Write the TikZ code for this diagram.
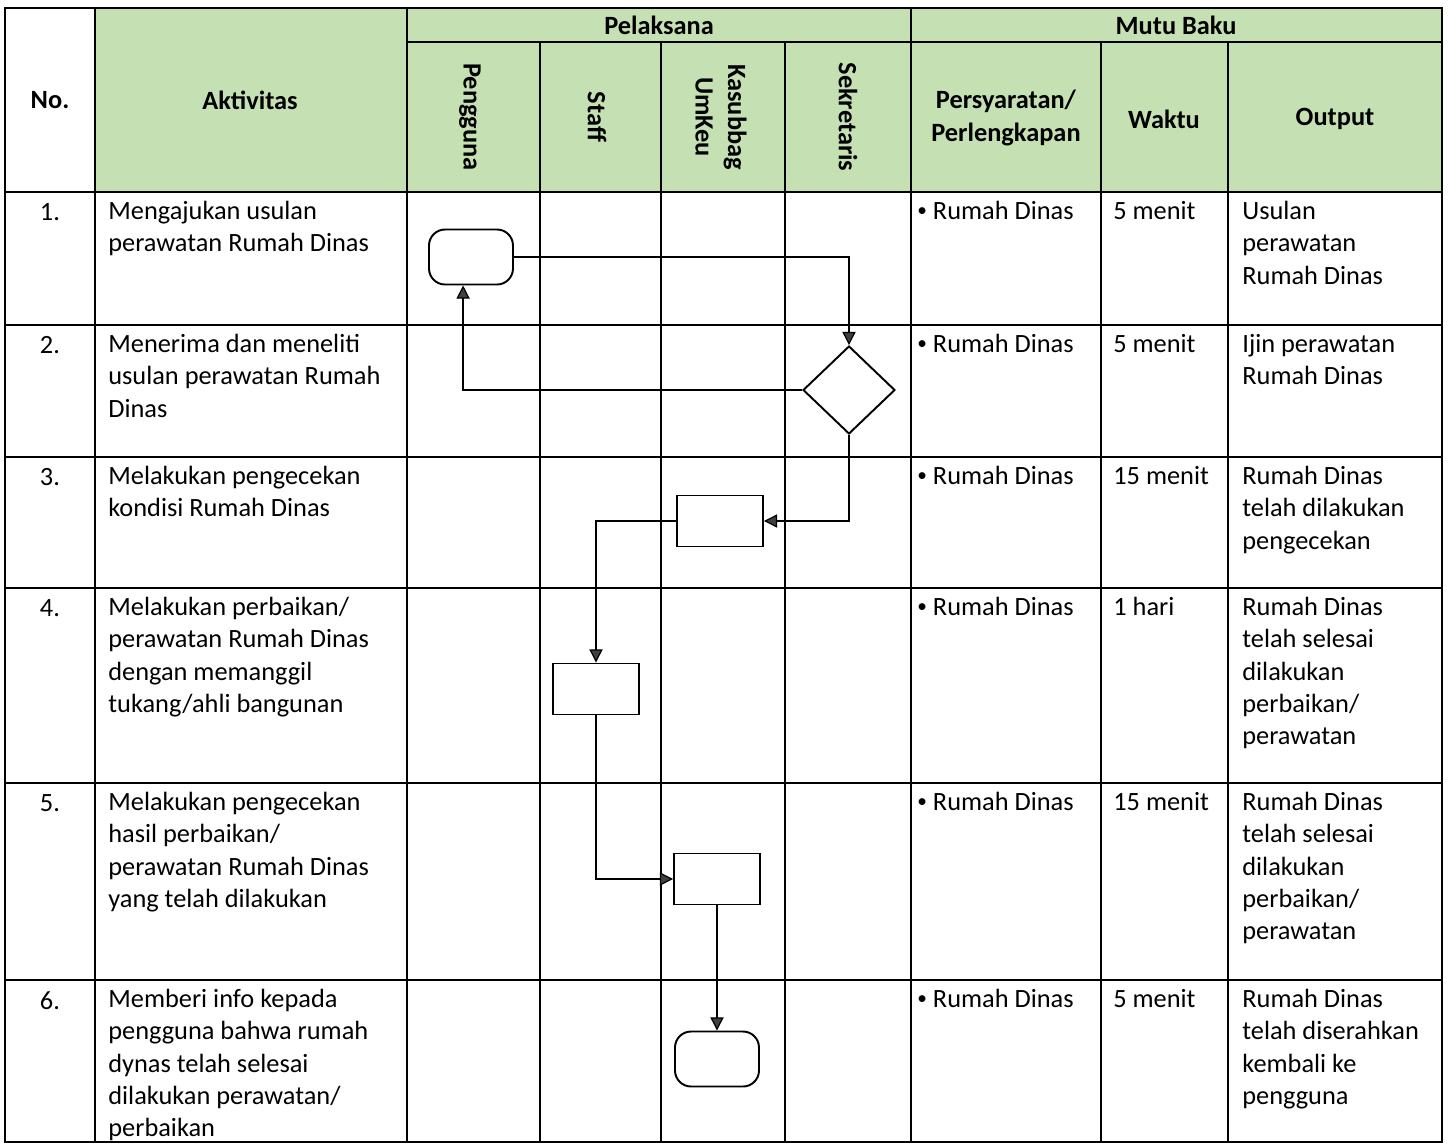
\documentclass[tikz,border=0pt]{standalone}
\usepackage{fontspec}
\setmainfont{Carlito}
\usetikzlibrary{shapes.geometric,arrows.meta}
\definecolor{headgreen}{HTML}{C5E0B3}
\newcommand{\smallbullet}{\raisebox{0.12em}{\fontsize{11}{11}\selectfont•}}
\tikzset{
	cell/.style={font=\fontsize{15}{18.4}\selectfont, align=left, inner sep=0pt, anchor=north west},
	head/.style={font=\fontsize{15}{18.4}\selectfont\bfseries, align=center, inner sep=0pt},
	term/.style={draw, line width=1.1pt, rounded corners=0.32cm, minimum width=1.68cm, minimum height=1.1cm, inner sep=0pt},
	proc/.style={draw, line width=1.1pt, minimum width=1.72cm, minimum height=1.02cm, inner sep=0pt},
	decide/.style={draw, diamond, line width=1.1pt, minimum width=1.84cm, minimum height=1.76cm, inner sep=0pt},
	flow/.style={line width=0.7pt, -{Triangle[length=7.5pt,width=7.5pt,fill=darkgray]}},
}

\begin{document}
\begin{tikzpicture}[x=0.02cm,y=-0.02cm]
	\useasboundingbox (0,0) rectangle (1448,1144);
	% header background
	\fill[headgreen] (95,8) rectangle (1442,192);
	% table lines
	\draw[line width=0.8pt] (5,8) rectangle (1442,1142);
	\foreach \y in {192,325,457,588,783,980} \draw[line width=0.8pt] (5,\y) -- (1442,\y);
	\draw[line width=0.8pt] (407,42) -- (1442,42);
	\foreach \x in {95,407,911} \draw[line width=0.8pt] (\x,8) -- (\x,1142);
	\foreach \x in {540,661,785,1101,1228} \draw[line width=0.8pt] (\x,42) -- (\x,1142);
	
	% header texts
	\node[head] (hno) at (50,100) {No.};
	\node[head] (hakt) at (250,100) {Aktivitas};
	\node[head] (hpel) at (659,25) {Pelaksana};
	\node[head] (hmutu) at (1176,25) {Mutu Baku};
	\node[head, rotate=-90] (hpengguna) at (470,117) {Pengguna};
	\node[head, rotate=-90] (hstaff) at (597,117) {Staff};
	\node[head, rotate=-90] (hkasubbag) at (721,117) {Kasubbag\\UmKeu};
	\node[head, rotate=-90] (hsekretaris) at (848,117) {Sekretaris};
	\node[head] (hsyarat) at (1006,118) {Persyaratan/\\Perlengkapan};
	\node[head] (hwaktu) at (1164,119) {Waktu};
	\node[head] (houtput) at (1335,119) {Output};
	
	% rows
	\foreach \y/\no/\akt/\wkt/\out [count=\i] in {
		192/1./{Mengajukan usulan\\perawatan Rumah Dinas}/5 menit/{Usulan\\perawatan\\Rumah Dinas},
		325/2./{Menerima dan meneliti\\usulan perawatan Rumah\\Dinas}/5 menit/{Ijin perawatan\\Rumah Dinas},
		457/3./{Melakukan pengecekan\\kondisi Rumah Dinas}/15 menit/{Rumah Dinas\\telah dilakukan\\pengecekan},
		588/4./{Melakukan perbaikan/\\perawatan Rumah Dinas\\dengan memanggil\\tukang/ahli bangunan}/1 hari/{Rumah Dinas\\telah selesai\\dilakukan\\perbaikan/\\perawatan},
		783/5./{Melakukan pengecekan\\hasil perbaikan/\\perawatan Rumah Dinas\\yang telah dilakukan}/15 menit/{Rumah Dinas\\telah selesai\\dilakukan\\perbaikan/\\perawatan},
		980/6./{Memberi info kepada\\pengguna bahwa rumah\\dynas telah selesai\\dilakukan perawatan/\\perbaikan}/5 menit/{Rumah Dinas\\telah diserahkan\\kembali ke\\pengguna}}
	{
		\node[cell, anchor=north] (no\i) at (50,\y+11) {\no};
		\node[cell] (akt\i) at (108,\y+9) {\akt};
		\node[cell] (syarat\i) at (917,\y+9) {\smallbullet\ Rumah Dinas};
		\node[cell] (waktu\i) at (1113,\y+9) {\wkt};
		\node[cell] (out\i) at (1242,\y+9) {\out};
	}
	
	% flow
	\node[term] (start) at (471,257) {};
	\node[decide] (cek) at (849,390) {};
	\node[proc] (periksa) at (720,521) {};
	\node[proc] (perbaiki) at (596,689) {};
	\node[proc] (hasil) at (717,879) {};
	\node[term] (selesai) at (717,1059) {};
	
	\draw[flow] (start.east) -| (cek.north);
	\draw[flow] (cek.west) -| ([xshift=-4.5pt]start.south);
	\draw[flow] (cek.south) |- (periksa.east);
	\draw[flow] (periksa.west) -| (perbaiki.north);
	\draw[flow] (perbaiki.south) |- (hasil.west);
	\draw[flow] (hasil.south) -- (selesai.north);
\end{tikzpicture}
\end{document}
